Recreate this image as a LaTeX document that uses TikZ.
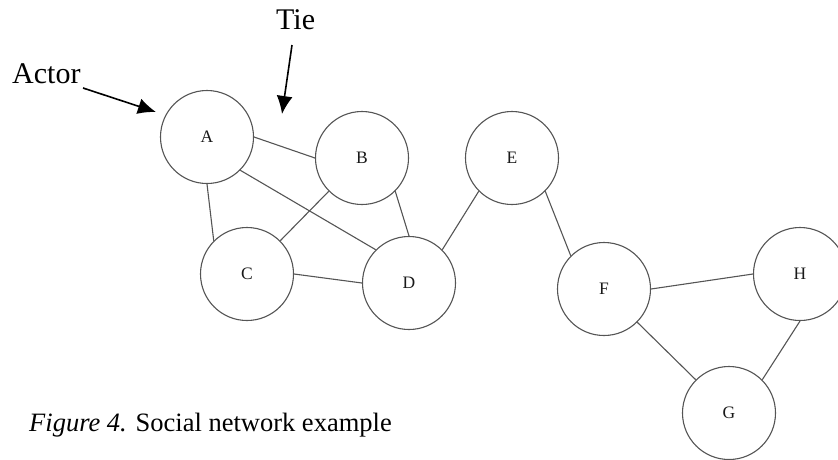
\documentclass[tikz,border=0pt]{standalone}
\usepackage{fontspec}
\setmainfont{Liberation Serif}
\usetikzlibrary{arrows.meta}
\definecolor{edgegray}{HTML}{555555}
\tikzset{
  actor/.style={circle, draw=edgegray, line width=1.1pt, minimum size=93pt, inner sep=0pt,
    font=\fontsize{17.5}{21}\selectfont, text=black!90},
  tie/.style={draw=edgegray, line width=1.1pt},
  pointer/.style={draw=black, line width=1.6pt, -{Latex[length=18pt,width=16pt]}},
  bigtext/.style={font=\fontsize{30}{36}\selectfont, inner sep=0pt, anchor=base west},
}
\begin{document}
\begin{tikzpicture}[x=1pt, y=-1pt]
  \useasboundingbox (0,0) rectangle (838,459);
  % actors
  \node[actor] (A) at (207,137) {A};
  \node[actor] (B) at (362,158) {B};
  \node[actor] (C) at (247,274) {C};
  \node[actor] (D) at (409,283) {D};
  \node[actor] (E) at (512,158) {E};
  \node[actor] (F) at (604,289) {F};
  \node[actor] (H) at (800,274) {H};
  \node[actor] (G) at (729,413) {G};
  % ties, drawn between compass points of the circles
  \draw[tie] (A.east) -- (B.west);
  \draw[tie] (A.south) -- (C.north west);
  \draw[tie] (A.south east) -- (D.north west);
  \draw[tie] (B.south west) -- (C.north east);
  \draw[tie] (B.south east) -- (D.north);
  \draw[tie] (C.east) -- (D.west);
  \draw[tie] (D.north east) -- (E.south west);
  \draw[tie] (E.south east) -- (F.north west);
  \draw[tie] (F.east) -- (H.west);
  \draw[tie] (F.south east) -- (G.north west);
  \draw[tie] (G.north east) -- (H.south);
  % annotations
  \node[bigtext] (actorlabel) at (12,83) {Actor};
  \node[bigtext] (tielabel) at (276,29) {Tie};
  \coordinate (actortail) at (83,88);
  \coordinate (actortip) at (156,112);
  \coordinate (tietail) at (292,45);
  \coordinate (tietip) at (282,114);
  \draw[pointer] (actortail) -- (actortip);
  \draw[pointer] (tietail) -- (tietip);
  % caption
  \node[font=\fontsize{26.5}{32}\selectfont, inner sep=0pt, anchor=base west] (caption) at (29,431)
    {\textit{Figure 4.} Social network example};
\end{tikzpicture}
\end{document}
